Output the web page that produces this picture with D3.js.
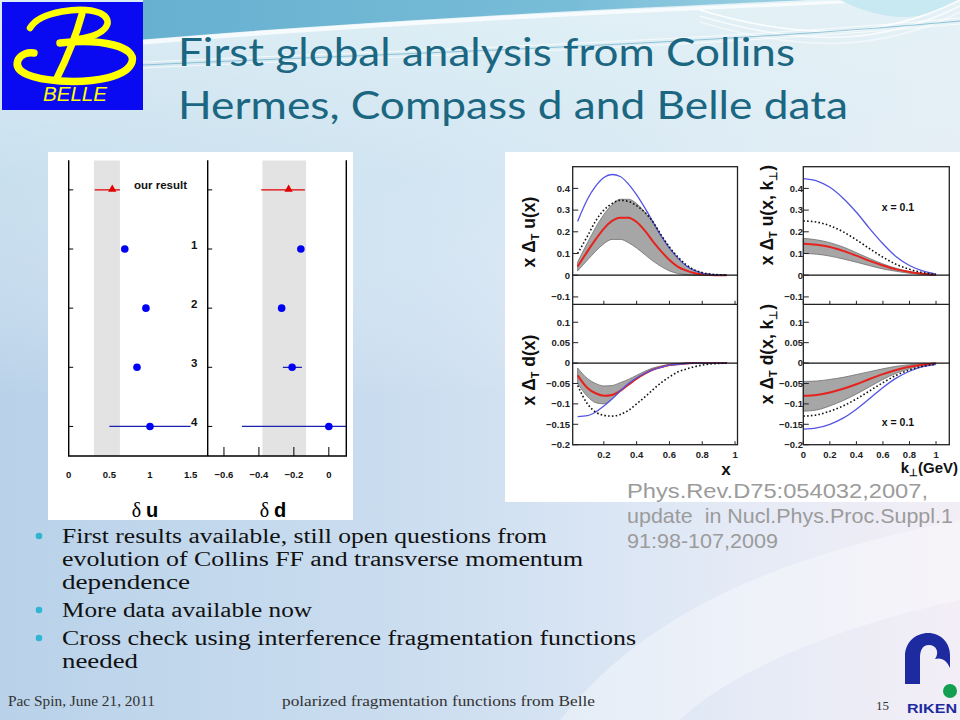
<!DOCTYPE html>
<html><head><meta charset="utf-8">
<script src="https://cdn.jsdelivr.net/npm/d3@7"></script>
<style>html,body{margin:0;padding:0;background:#fff;overflow:hidden}svg{display:block}</style>
</head><body>
<script>
// ---------------- DATA ----------------
const titleLines = ["First global analysis from Collins", "Hermes, Compass d and Belle data"];
const rowLabels = ["our result", "1", "2", "3", "4"];
const duValues = [0.536, 0.69, 0.95, 0.84, 1.0];
const duErrLo  = [0.32, null, null, null, 0.5];
const duErrHi  = [0.63, null, null, null, 1.5];
const ddValues = [-0.23, -0.16, -0.27, -0.21, 0.0];
const ddErrLo  = [-0.387, null, null, -0.263, -0.497];
const ddErrHi  = [-0.137, null, null, -0.154, 0.15];
const duBand = [0.31, 0.63];
const ddBand = [-0.38, -0.13];
const duTicks = [0, 0.5, 1, 1.5];
const ddTicks = [-0.6, -0.4, -0.2, 0];

// x-dependence (left column of right figure)
const xGrid    = [0.04, 0.1, 0.15, 0.2, 0.25, 0.3, 0.35, 0.4, 0.45, 0.5, 0.55, 0.6, 0.65, 0.7, 0.75, 0.8, 0.85, 0.9, 0.95];
const uBlue    = [0.248, 0.35, 0.41, 0.45, 0.464, 0.455, 0.42, 0.37, 0.31, 0.245, 0.18, 0.125, 0.08, 0.045, 0.022, 0.01, 0.004, 0.001, 0.0];
const uDotted  = [0.10, 0.18, 0.25, 0.30, 0.33, 0.345, 0.34, 0.32, 0.29, 0.245, 0.185, 0.13, 0.085, 0.05, 0.025, 0.012, 0.005, 0.002, 0.0];
const uRed     = [0.04, 0.11, 0.165, 0.215, 0.25, 0.265, 0.265, 0.245, 0.205, 0.155, 0.11, 0.07, 0.04, 0.022, 0.01, 0.004, 0.001, 0.0, 0.0];
const uBandHi  = [0.06, 0.15, 0.22, 0.28, 0.325, 0.35, 0.35, 0.33, 0.29, 0.24, 0.18, 0.125, 0.08, 0.045, 0.022, 0.01, 0.003, 0.001, 0.0];
const uBandLo  = [0.02, 0.07, 0.11, 0.145, 0.165, 0.165, 0.15, 0.125, 0.095, 0.065, 0.04, 0.02, 0.008, 0.003, 0.001, 0.0, 0.0, 0.0, 0.0];
const dBlue    = [-0.131, -0.129, -0.12, -0.105, -0.088, -0.068, -0.05, -0.036, -0.025, -0.016, -0.01, -0.005, -0.003, -0.001, 0.0, 0.0, 0.0, 0.0, 0.0];
const dDotted  = [-0.055, -0.10, -0.12, -0.128, -0.13, -0.126, -0.116, -0.10, -0.083, -0.065, -0.048, -0.034, -0.022, -0.015, -0.009, -0.005, -0.002, -0.001, 0.0];
const dRed     = [-0.03, -0.061, -0.074, -0.08, -0.078, -0.068, -0.053, -0.038, -0.026, -0.016, -0.01, -0.005, -0.003, -0.001, 0.0, 0.0, 0.0, 0.0, 0.0];
const dBandHi  = [-0.012, -0.038, -0.05, -0.056, -0.055, -0.048, -0.04, -0.03, -0.02, -0.012, -0.007, -0.003, -0.001, 0.0, 0.0, 0.0, 0.0, 0.0, 0.0];
const dBandLo  = [-0.05, -0.082, -0.097, -0.1, -0.088, -0.07, -0.054, -0.039, -0.027, -0.017, -0.01, -0.006, -0.003, -0.001, 0.0, 0.0, 0.0, 0.0, 0.0];

// k_perp-dependence at x = 0.1 (right column)
const kGrid    = [0, 0.1, 0.2, 0.3, 0.4, 0.5, 0.6, 0.7, 0.8, 0.9, 1.0];
const kuBlue   = [0.445, 0.435, 0.405, 0.355, 0.29, 0.215, 0.145, 0.085, 0.045, 0.02, 0.005];
const kuDotted = [0.25, 0.245, 0.228, 0.2, 0.163, 0.122, 0.083, 0.05, 0.027, 0.012, 0.004];
const kuRed    = [0.145, 0.14, 0.13, 0.112, 0.09, 0.066, 0.045, 0.027, 0.015, 0.007, 0.002];
const kuBandHi = [0.17, 0.163, 0.15, 0.13, 0.104, 0.077, 0.052, 0.032, 0.017, 0.008, 0.002];
const kuBandLo = [0.10, 0.097, 0.088, 0.075, 0.06, 0.044, 0.029, 0.018, 0.009, 0.004, 0.001];
const kdBlue   = [-0.162, -0.159, -0.15, -0.135, -0.113, -0.087, -0.06, -0.037, -0.02, -0.009, -0.003];
const kdDotted = [-0.13, -0.127, -0.118, -0.105, -0.088, -0.068, -0.048, -0.03, -0.017, -0.008, -0.003];
const kdRed    = [-0.08, -0.078, -0.072, -0.063, -0.052, -0.039, -0.027, -0.017, -0.009, -0.004, -0.001];
const kdBandHi = [-0.045, -0.044, -0.04, -0.035, -0.028, -0.021, -0.014, -0.008, -0.004, -0.002, 0.0];
const kdBandLo = [-0.118, -0.115, -0.105, -0.092, -0.076, -0.058, -0.04, -0.025, -0.014, -0.006, -0.002];

const xTicksX = [0.2, 0.4, 0.6, 0.8, 1];
const xTicksK = [0, 0.2, 0.4, 0.6, 0.8, 1];
const yTicksU = [0.4, 0.3, 0.2, 0.1, 0, -0.1];
const yTicksD = [0.1, 0.05, 0, -0.05, -0.1, -0.15, -0.2];

const bullets = [
  ["First results available, still open questions from", "evolution of Collins FF and transverse momentum", "dependence"],
  ["More data available now"],
  ["Cross check using interference fragmentation functions", "needed"]
];
const citation = ["Phys.Rev.D75:054032,2007,", "update  in Nucl.Phys.Proc.Suppl.1", "91:98-107,2009"];
const footerLeft = "Pac Spin, June 21, 2011";
const footerMid = "polarized fragmentation functions from Belle";
const pageNumber = "15";

// ---------------- DRAW ----------------
const svg = d3.select("body").append("svg").attr("width", 960).attr("height", 720);
const defs = svg.append("defs");
const SANS = "'Liberation Sans', Arial, sans-serif";

function lin(id, x1, y1, x2, y2, stops) {
  const g = defs.append("linearGradient").attr("id", id)
    .attr("x1", x1).attr("y1", y1).attr("x2", x2).attr("y2", y2);
  stops.forEach(s => g.append("stop").attr("offset", s[0]).attr("stop-color", s[1]).attr("stop-opacity", s[2] == null ? 1 : s[2]));
}
lin("bgH", 0, 0, 1, 0, [[0, "#b9d2e9"], [0.45, "#ccdef0"], [0.75, "#e3eaf6"], [1, "#f3eef6"]]);
lin("bgV", 0, 0, 0, 1, [[0, "#e2f2f6", 0.85], [0.25, "#d8edf4", 0.5], [0.55, "#ffffff", 0], [1, "#ffffff", 0]]);
lin("band", 0, 0, 1, 0, [[0, "#67b0d0"], [0.6, "#78bdd8"], [1, "#a6d6e6"]]);

svg.append("rect").attr("width", 960).attr("height", 720).attr("fill", "url(#bgH)");
svg.append("rect").attr("width", 960).attr("height", 720).attr("fill", "url(#bgV)");
svg.append("path").attr("d", "M560,720 C640,620 760,560 960,520 L960,600 C820,630 720,680 680,720 Z")
  .attr("fill", "#ffffff").attr("opacity", 0.35);
// top band
svg.append("path").attr("d", "M143,0 H860 C700,6 430,16 143,40 Z").attr("fill", "url(#band)");
svg.append("path").attr("d", "M143,42 C430,18 700,8 860,0").attr("fill", "none")
  .attr("stroke", "#ffffff").attr("stroke-width", 5).attr("opacity", 0.75);
svg.append("path").attr("d", "M840,0 C880,20 920,25 960,0 Z").attr("fill", "#c8e8f2");
[[0, 0.9], [6, 0.7], [12, 0.5]].forEach(([o, op]) => {
  svg.append("path").attr("d", `M700,${10 + o} C800,${40 + o} 880,${40 + o} 960,${o}`)
    .attr("fill", "none").attr("stroke", "#ffffff").attr("stroke-width", 1.6).attr("opacity", op);
});
[[0, "#ffffff"], [3, "#6aaec8"], [6, "#ffffff"]].forEach(([o, c]) => {
  svg.append("path").attr("d", `M143,${62 + o} C400,${50 + o} 700,${42 + o} 960,${18 + o}`)
    .attr("fill", "none").attr("stroke", c).attr("stroke-width", 1).attr("opacity", 0.7);
});

// Belle logo
const logo = svg.append("g");
logo.append("rect").attr("x", 2).attr("y", 2).attr("width", 141).attr("height", 108).attr("fill", "#0a0af2");
logo.append("path").attr("d", "M82,14 C76,36 66,60 56,80").attr("fill", "none").attr("stroke", "#ffff00").attr("stroke-width", 7).attr("stroke-linecap", "round");
logo.append("path").attr("d", "M30,28 C40,11 82,6 100,13 C115,20 108,35 78,39").attr("fill", "none").attr("stroke", "#ffff00").attr("stroke-width", 6.5).attr("stroke-linecap", "round");
logo.append("path").attr("d", "M60,43 C102,38 137,47 132,62 C127,77 95,83 60,81 C34,79 13,73 18,60 C21,54 28,52 34,53").attr("fill", "none").attr("stroke", "#ffff00").attr("stroke-width", 7.5).attr("stroke-linecap", "round");
logo.append("text").attr("x", 43).attr("y", 101).attr("font-family", SANS).attr("font-style", "italic")
  .attr("font-size", 20).attr("fill", "#ffff00").attr("textLength", 64).attr("lengthAdjust", "spacingAndGlyphs").text("BELLE");

// Title
const titleW = [617, 670];
const titleY = [66, 119];
titleLines.forEach((t, i) => {
  svg.append("text").attr("x", 178).attr("y", titleY[i]).attr("font-family", "Lato, 'Open Sans', sans-serif")
    .attr("font-size", 39).attr("fill", "#1b6681").attr("textLength", titleW[i]).attr("lengthAdjust", "spacingAndGlyphs").text(t);
});

// ---------------- LEFT FIGURE (delta u, delta d) ----------------
const L = svg.append("g");
L.append("rect").attr("x", 48).attr("y", 152).attr("width", 305).attr("height", 368).attr("fill", "#ffffff");
const fTop = 160.3, fBot = 456, fL = 68.7, fMid = 207.7, fR = 346.3;
const yRow = d3.scaleLinear().domain([-0.5, 4.5]).range([fTop, fBot]);
const xU = d3.scaleLinear().domain([0, 1.71]).range([fL, fMid]);
const xD = d3.scaleLinear().domain([-0.693, 0.1]).range([fMid, fR]);

defs.append("clipPath").attr("id", "clipU").append("rect").attr("x", fL).attr("y", fTop).attr("width", fMid - fL).attr("height", fBot - fTop);
defs.append("clipPath").attr("id", "clipD").append("rect").attr("x", fMid).attr("y", fTop).attr("width", fR - fMid).attr("height", fBot - fTop);

function leftPanel(xs, clip, band, vals, lo, hi, ticks, fmt) {
  const g = L.append("g").attr("clip-path", `url(#${clip})`);
  g.append("rect").attr("x", xs(band[0])).attr("y", fTop).attr("width", xs(band[1]) - xs(band[0])).attr("height", fBot - fTop).attr("fill", "#e3e3e3");
  vals.forEach((v, i) => {
    const col = i === 0 ? "#e00000" : "#1a22b0";
    if (lo[i] != null) {
      g.append("line").attr("x1", xs(lo[i])).attr("x2", xs(hi[i])).attr("y1", yRow(i)).attr("y2", yRow(i))
        .attr("stroke", col).attr("stroke-width", 1.3);
    }
    if (i === 0) {
      g.append("path").attr("d", d3.symbol().type(d3.symbolTriangle).size(30)()).attr("transform", `translate(${xs(v)},${yRow(i) - 0.5})`).attr("fill", "#e00000");
    } else {
      g.append("circle").attr("cx", xs(v)).attr("cy", yRow(i)).attr("r", 3.8).attr("fill", "#0000f5");
    }
  });
  ticks.forEach(t => {
    L.append("text").attr("x", xs(t)).attr("y", 477.5).attr("text-anchor", "middle").attr("font-family", SANS)
      .attr("font-weight", "bold").attr("font-size", 9.5).attr("fill", "#111").text(fmt(t));
  });
}
leftPanel(xU, "clipU", duBand, duValues, duErrLo, duErrHi, duTicks, t => String(t));
leftPanel(xD, "clipD", ddBand, ddValues, ddErrLo, ddErrHi, ddTicks, t => t < 0 ? "\u2212" + String(-t) : String(t));

L.append("path").attr("d", `M${fL},${fTop} V${fBot} H${fR} V${fTop}`).attr("fill", "none").attr("stroke", "#000").attr("stroke-width", 1.4);
L.append("line").attr("x1", fMid).attr("x2", fMid).attr("y1", fTop).attr("y2", fBot).attr("stroke", "#000").attr("stroke-width", 1.4);
rowLabels.forEach((r, i) => {
  [fL, fMid].forEach(x0 => L.append("line").attr("x1", x0).attr("x2", x0 + 4.5).attr("y1", yRow(i)).attr("y2", yRow(i)).attr("stroke", "#000").attr("stroke-width", 1));
});
ddTicks.forEach(t => L.append("line").attr("x1", xD(t)).attr("x2", xD(t)).attr("y1", fBot).attr("y2", fBot - 9).attr("stroke", "#000").attr("stroke-width", 1));
rowLabels.forEach((r, i) => {
  L.append("text").attr("x", i === 0 ? 134 : 191).attr("y", yRow(i) - 0.5).attr("font-family", SANS)
    .attr("font-weight", "bold").attr("font-size", 11.5).attr("fill", "#111").text(r);
});
[[145, "u"], [273, "d"]].forEach(([cx, q]) => {
  const t = L.append("text").attr("x", cx).attr("y", 517).attr("text-anchor", "middle").attr("fill", "#000");
  t.append("tspan").attr("font-family", "'Liberation Serif', 'DejaVu Serif', serif").attr("font-size", 20).text("\u03b4 ");
  t.append("tspan").attr("font-family", SANS).attr("font-weight", "bold").attr("font-size", 20).text(q);
});

// ---------------- RIGHT FIGURE ----------------
const R = svg.append("g");
R.append("rect").attr("x", 505).attr("y", 152).attr("width", 455).attr("height", 350).attr("fill", "#ffffff");
const rTop = 166.7, rDiv = 304.3, rBot = 444.7;
const yU = d3.scaleLinear().domain([-0.134, 0.5]).range([rDiv, rTop]);
const yD = d3.scaleLinear().domain([-0.2, 0.144]).range([rBot, rDiv]);
const xX = d3.scaleLinear().domain([0.01, 1.015]).range([572.7, 737.5]);
const xK = d3.scaleLinear().domain([0, 1.1]).range([803.3, 949.3]);

function curves(xs, ys, grid, bandHi, bandLo, red, dotted, blue) {
  const area = d3.area().x((d, i) => xs(grid[i])).y0((d, i) => ys(bandLo[i])).y1((d, i) => ys(bandHi[i])).curve(d3.curveMonotoneX);
  const line = arr => d3.line().x((d, i) => xs(grid[i])).y((d, i) => ys(arr[i])).curve(d3.curveMonotoneX)(arr);
  R.append("path").attr("d", area(grid)).attr("fill", "#a6a6a6").attr("stroke", "#6e6e6e").attr("stroke-width", 0.8);
  R.append("path").attr("d", line(red)).attr("fill", "none").attr("stroke", "#e6221e").attr("stroke-width", 2);
  R.append("path").attr("d", line(blue)).attr("fill", "none").attr("stroke", "#5454e4").attr("stroke-width", 1.3);
  R.append("path").attr("d", line(dotted)).attr("fill", "none").attr("stroke", "#111").attr("stroke-width", 1.6).attr("stroke-dasharray", "1.6,2.2");
}
curves(xX, yU, xGrid, uBandHi, uBandLo, uRed, uDotted, uBlue);
curves(xX, yD, xGrid, dBandHi, dBandLo, dRed, dDotted, dBlue);
curves(xK, yU, kGrid, kuBandHi, kuBandLo, kuRed, kuDotted, kuBlue);
curves(xK, yD, kGrid, kdBandHi, kdBandLo, kdRed, kdDotted, kdBlue);

function frame(xs, xticks, labelEnd) {
  const [x0, x1] = xs.range();
  R.append("rect").attr("x", x0).attr("y", rTop).attr("width", x1 - x0).attr("height", rBot - rTop).attr("fill", "none").attr("stroke", "#222").attr("stroke-width", 1.3);
  R.append("line").attr("x1", x0).attr("x2", x1).attr("y1", rDiv).attr("y2", rDiv).attr("stroke", "#222").attr("stroke-width", 1.3);
  R.append("line").attr("x1", x0).attr("x2", x1).attr("y1", yU(0)).attr("y2", yU(0)).attr("stroke", "#111").attr("stroke-width", 1.2);
  R.append("line").attr("x1", x0).attr("x2", x1).attr("y1", yD(0)).attr("y2", yD(0)).attr("stroke", "#111").attr("stroke-width", 1.2);
  xticks.forEach(t => {
    [rDiv, rBot].forEach(yb => R.append("line").attr("x1", xs(t)).attr("x2", xs(t)).attr("y1", yb).attr("y2", yb - 3.5).attr("stroke", "#222").attr("stroke-width", 1));
    R.append("text").attr("x", xs(t)).attr("y", 457.5).attr("text-anchor", "middle").attr("font-family", SANS)
      .attr("font-weight", "bold").attr("font-size", 9.5).attr("fill", "#222").text(String(t));
  });
  yTicksU.forEach(t => {
    R.append("line").attr("x1", x0).attr("x2", x0 + 5.5).attr("y1", yU(t)).attr("y2", yU(t)).attr("stroke", "#222").attr("stroke-width", 1);
    R.append("text").attr("x", labelEnd).attr("y", yU(t) + 3.3).attr("text-anchor", "end").attr("font-family", SANS)
      .attr("font-weight", "bold").attr("font-size", 9.5).attr("fill", "#222").text(t < 0 ? "\u2212" + String(-t) : String(t));
  });
  yTicksD.forEach(t => {
    R.append("line").attr("x1", x0).attr("x2", x0 + 5.5).attr("y1", yD(t)).attr("y2", yD(t)).attr("stroke", "#222").attr("stroke-width", 1);
    R.append("text").attr("x", labelEnd).attr("y", yD(t) + 3.3).attr("text-anchor", "end").attr("font-family", SANS)
      .attr("font-weight", "bold").attr("font-size", 9.5).attr("fill", "#222").text(t < 0 ? "\u2212" + String(-t) : String(t));
  });
}
frame(xX, xTicksX, 570);
frame(xK, xTicksK, 803);

function yLabel(cx, cy, q, withK) {
  const t = R.append("text").attr("transform", `translate(${cx},${cy}) rotate(-90)`).attr("text-anchor", "middle")
    .attr("font-family", SANS).attr("font-weight", "bold").attr("font-size", 17.5).attr("fill", "#111");
  t.append("tspan").text("x \u0394");
  t.append("tspan").attr("font-size", 11).attr("dy", 4).text("T");
  t.append("tspan").attr("dy", -4).text(withK ? ` ${q}(x, k` : ` ${q}(x)`);
  if (withK) {
    t.append("tspan").attr("font-size", 11).attr("dy", 4).text("\u22a5");
    t.append("tspan").attr("dy", -4).text(")");
  }
}
yLabel(535, 232, "u", false);
yLabel(535, 370, "d", false);
yLabel(773, 215, "u", true);
yLabel(773, 354, "d", true);

R.append("text").attr("x", 726).attr("y", 475).attr("text-anchor", "middle").attr("font-family", SANS)
  .attr("font-weight", "bold").attr("font-size", 17).attr("fill", "#111").text("x");
const kx = R.append("text").attr("x", 958).attr("y", 473).attr("text-anchor", "end").attr("font-family", SANS)
  .attr("font-weight", "bold").attr("font-size", 15).attr("fill", "#111");
kx.append("tspan").text("k");
kx.append("tspan").attr("font-size", 10).attr("dy", 3).text("\u22a5");
kx.append("tspan").attr("dy", -3).text("(GeV)");
[210.5, 425.5].forEach(y => {
  R.append("text").attr("x", 898).attr("y", y).attr("text-anchor", "middle").attr("font-family", SANS)
    .attr("font-weight", "bold").attr("font-size", 10.5).attr("fill", "#111").text("x = 0.1");
});

// citation
const citeW = [301, 326, 151];
citation.forEach((c, i) => {
  svg.append("text").attr("x", 627).attr("y", 498 + i * 25).attr("font-family", SANS).attr("font-size", 21)
    .attr("fill", "#9b9b9b").attr("xml:space", "preserve").style("white-space", "pre")
    .attr("textLength", citeW[i]).attr("lengthAdjust", "spacingAndGlyphs").text(c);
});

// bullets
const bulletBase = [[543, 566, 589], [617], [645, 668]];
const bulletW = [[485, 521, 128], [250], [574, 76]];
bullets.forEach((b, i) => {
  svg.append("circle").attr("cx", 39).attr("cy", bulletBase[i][0] - 7).attr("r", 3.3).attr("fill", "#2fb4d2");
  b.forEach((line, j) => {
    svg.append("text").attr("x", 62).attr("y", bulletBase[i][j]).attr("font-family", "'Liberation Serif', 'DejaVu Serif', serif")
      .attr("font-size", 20).attr("fill", "#111").attr("textLength", bulletW[i][j]).attr("lengthAdjust", "spacingAndGlyphs").text(line);
  });
});

// footer
const FS = "'Liberation Serif', serif";
svg.append("text").attr("x", 8).attr("y", 706).attr("font-family", FS).attr("font-size", 14).attr("fill", "#333")
  .attr("textLength", 147).attr("lengthAdjust", "spacingAndGlyphs").text(footerLeft);
svg.append("text").attr("x", 282).attr("y", 706).attr("font-family", FS).attr("font-size", 14).attr("fill", "#333")
  .attr("textLength", 313).attr("lengthAdjust", "spacingAndGlyphs").text(footerMid);
svg.append("text").attr("x", 876).attr("y", 710).attr("font-family", FS).attr("font-size", 13).attr("fill", "#333").text(pageNumber);

// RIKEN logo
const rk = svg.append("g");
rk.append("path").attr("d", "M905,684 L905,656 C905,642 916,633 928,633 C941,633 950,643 950,655 L950,668 C947,661 942,657 935,659 C940,652 936,645 929,645 C922,645 920,651 920,658 L920,684 Z").attr("fill", "#1d2aa0");
rk.append("circle").attr("cx", 950).attr("cy", 691).attr("r", 7).attr("fill", "#12a050");
rk.append("text").attr("x", 907).attr("y", 713).attr("font-family", SANS).attr("font-weight", "bold").attr("font-size", 12.5)
  .attr("fill", "#1d2aa0").attr("textLength", 50).attr("lengthAdjust", "spacingAndGlyphs").text("RIKEN");
</script>
</body></html>
